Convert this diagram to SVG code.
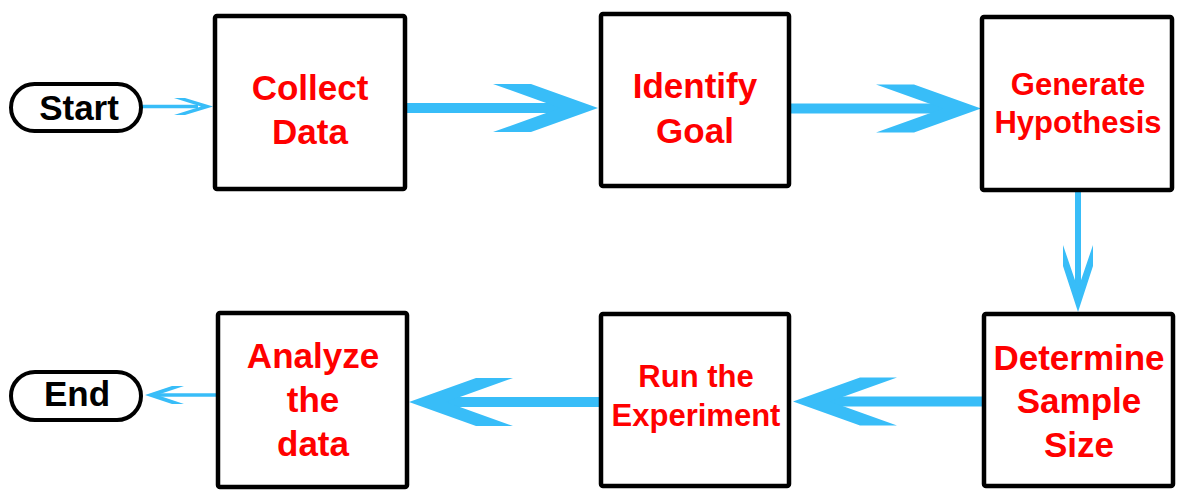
<svg xmlns="http://www.w3.org/2000/svg" width="1180" height="500" viewBox="0 0 1180 500">
  <style>
    .box { fill: #ffffff; stroke: #000000; stroke-width: 4.5; }
    .pill { fill: #ffffff; stroke: #000000; stroke-width: 4; }
    .lbl { font-family: "Liberation Sans", Arial, sans-serif; font-weight: bold; fill: #ff0000; text-anchor: middle; font-size: 35px; }
    .sm { font-size: 31px; }
    .term { font-family: "Liberation Sans", Arial, sans-serif; font-weight: bold; fill: #000000; text-anchor: middle; font-size: 35px; }
    .ln { stroke: #38bdf8; fill: none; }
    .hd { fill: #38bdf8; stroke: none; }
  </style>
  <rect width="1180" height="500" fill="#ffffff"/>

  <g id="connectors">
    <!-- Start -> Collect Data -->
    <line class="ln" x1="142" y1="106.5" x2="198" y2="106.5" stroke-width="3.5"/>
    <polygon class="hd" points="174,98 185,98 213,106.5 185,115 174,115 201,106.5"/>
    <!-- Collect Data -> Identify Goal -->
    <line class="ln" x1="407" y1="108" x2="562" y2="108" stroke-width="10"/>
    <polygon class="hd" points="493,84 531,84 598,108 531,132 493,132 560,108"/>
    <!-- Identify Goal -> Generate Hypothesis -->
    <line class="ln" x1="791" y1="108.5" x2="945" y2="108.5" stroke-width="10"/>
    <polygon class="hd" points="876,84.5 914,84.5 981,108.5 914,132.5 876,132.5 943,108.5"/>
    <!-- Generate Hypothesis -> Determine Sample Size -->
    <line class="ln" x1="1078" y1="192" x2="1078" y2="292" stroke-width="6"/>
    <polygon class="hd" points="1063,245 1063,266 1078,312 1093,266 1093,245 1078,289"/>
    <!-- Determine Sample Size -> Run the Experiment -->
    <line class="ln" x1="982" y1="401.5" x2="826" y2="401.5" stroke-width="10"/>
    <polygon class="hd" points="897,377.5 860,377.5 793,401.5 860,425.5 897,425.5 830,401.5"/>
    <!-- Run the Experiment -> Analyze the data -->
    <line class="ln" x1="600" y1="402" x2="444" y2="402" stroke-width="10"/>
    <polygon class="hd" points="513,378 476,378 409,402 476,426 513,426 446,402"/>
    <!-- Analyze the data -> End -->
    <line class="ln" x1="217" y1="395" x2="155" y2="395" stroke-width="3.5"/>
    <polygon class="hd" points="184,386 172,386 145,395 172,404 184,404 157,395"/>
  </g>

  <g id="start">
    <rect class="pill" x="11" y="84" width="130" height="47" rx="23.5" ry="23.5"/>
    <text class="term" x="79" y="120">Start</text>
  </g>

  <g id="collect-data">
    <rect class="box" x="215" y="16" width="190" height="173" rx="2"/>
    <text class="lbl" x="310" y="100">Collect</text>
    <text class="lbl" x="310" y="144">Data</text>
  </g>

  <g id="identify-goal">
    <rect class="box" x="601" y="14" width="188" height="172" rx="2"/>
    <text class="lbl" x="695" y="98">Identify</text>
    <text class="lbl" x="695" y="143">Goal</text>
  </g>

  <g id="generate-hypothesis">
    <rect class="box" x="982" y="17" width="190" height="173" rx="2"/>
    <text class="lbl sm" x="1078" y="95">Generate</text>
    <text class="lbl sm" x="1078" y="133">Hypothesis</text>
  </g>

  <g id="determine-sample-size">
    <rect class="box" x="984" y="314" width="189" height="172" rx="2"/>
    <text class="lbl" x="1079" y="370">Determine</text>
    <text class="lbl" x="1079" y="413">Sample</text>
    <text class="lbl" x="1079" y="457">Size</text>
  </g>

  <g id="run-the-experiment">
    <rect class="box" x="601" y="314" width="188" height="172" rx="2"/>
    <text class="lbl sm" x="696" y="387">Run the</text>
    <text class="lbl sm" x="696" y="426">Experiment</text>
  </g>

  <g id="analyze-the-data">
    <rect class="box" x="218" y="313" width="189" height="174" rx="2"/>
    <text class="lbl" x="313" y="368">Analyze</text>
    <text class="lbl" x="313" y="412">the</text>
    <text class="lbl" x="313" y="456">data</text>
  </g>

  <g id="end">
    <rect class="pill" x="11" y="372" width="130" height="48" rx="24" ry="24"/>
    <text class="term" x="77" y="406">End</text>
  </g>
</svg>
